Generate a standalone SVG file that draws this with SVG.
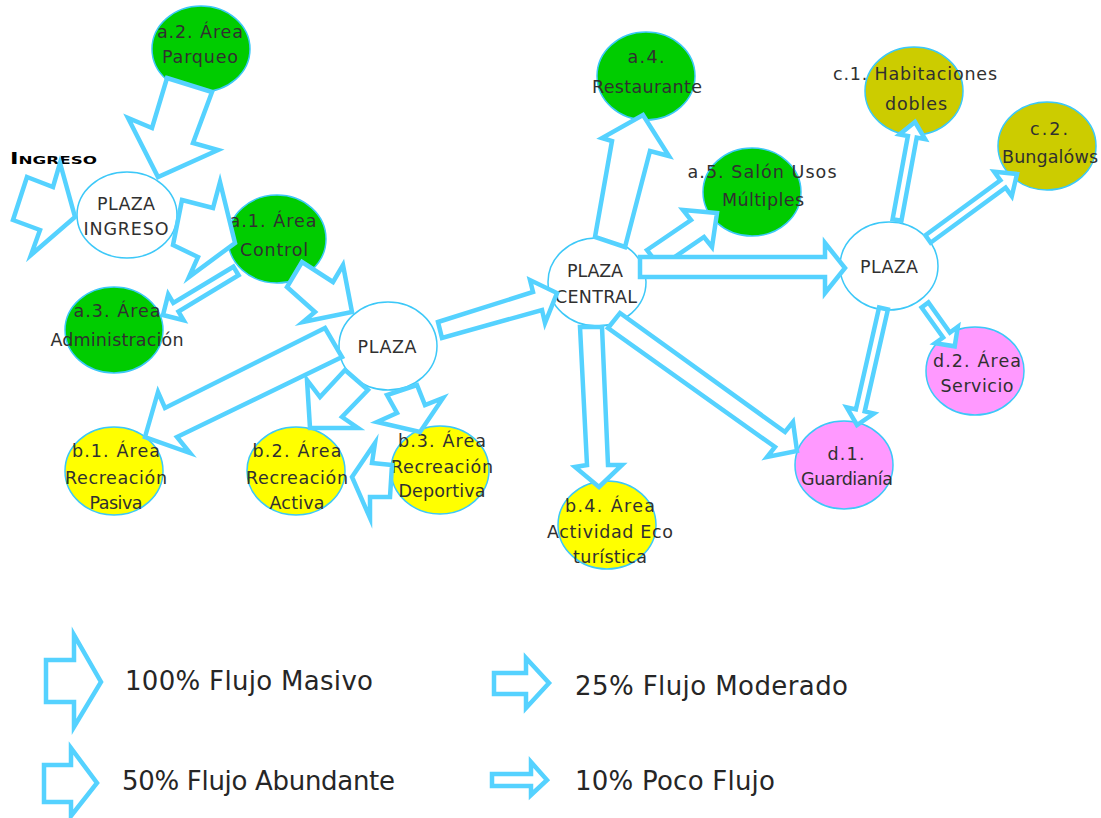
<svg xmlns="http://www.w3.org/2000/svg" width="1101" height="818" viewBox="0 0 1101 818">
<style>
.n{stroke:#3cc8f8;stroke-width:1.5}
.g{fill:#00cc00}.y{fill:#ffff00}.o{fill:#cccc00}.p{fill:#ff99ff}.w{fill:#ffffff}
.t{font-family:"DejaVu Sans","Liberation Sans",sans-serif;font-weight:normal;font-size:17.5px;fill:#303030;text-anchor:middle}
.a{fill:#ffffff;stroke:#55d2ff;stroke-width:4.5;stroke-linejoin:miter;stroke-miterlimit:10}
.lt{font-family:"DejaVu Sans","Liberation Sans",sans-serif;font-weight:normal;font-size:26px;fill:#262626}
.ing{font-family:"DejaVu Sans","Liberation Sans",sans-serif;font-weight:bold;font-size:15px;font-variant:small-caps;fill:#000}
</style>
<rect width="1101" height="818" fill="#ffffff"/>
<text class="ing" x="10" y="164" textLength="87" lengthAdjust="spacingAndGlyphs">Ingreso</text>
<g id="n-a2"><ellipse class="n g" cx="201" cy="49" rx="49" ry="43"/><text class="t" x="200" y="38" textLength="86">a.2. Área</text><text class="t" x="200" y="63" textLength="76">Parqueo</text></g>
<g id="n-plaza-ingreso"><ellipse class="n w" cx="127" cy="215" rx="50" ry="43"/><text class="t" x="126" y="210" textLength="58">PLAZA</text><text class="t" x="126" y="235" textLength="85">INGRESO</text></g>
<g id="n-a1"><ellipse class="n g" cx="277" cy="239" rx="49" ry="44"/><text class="t" x="273" y="227" textLength="87">a.1. Área</text><text class="t" x="274" y="256" textLength="68">Control</text></g>
<g id="n-a3"><ellipse class="n g" cx="114" cy="330" rx="49" ry="43"/><text class="t" x="117" y="317" textLength="87">a.3. Área</text><text class="t" x="117" y="346" textLength="133">Administración</text></g>
<g id="n-plaza1"><ellipse class="n w" cx="388" cy="346" rx="49" ry="44"/><text class="t" x="387" y="353" textLength="59">PLAZA</text></g>
<g id="n-b1"><ellipse class="n y" cx="114" cy="471" rx="49" ry="44"/><text class="t" x="116" y="457" textLength="88">b.1. Área</text><text class="t" x="116" y="484" textLength="102">Recreación</text><text class="t" x="116" y="509" textLength="53">Pasiva</text></g>
<g id="n-b2"><ellipse class="n y" cx="296" cy="471" rx="49" ry="44"/><text class="t" x="297" y="457" textLength="89">b.2. Área</text><text class="t" x="297" y="484" textLength="102">Recreación</text><text class="t" x="297" y="509" textLength="55">Activa</text></g>
<g id="n-b3"><ellipse class="n y" cx="440" cy="470" rx="49" ry="44"/><text class="t" x="442" y="447" textLength="88">b.3. Área</text><text class="t" x="442" y="473" textLength="102">Recreación</text><text class="t" x="442" y="497" textLength="87">Deportiva</text></g>
<g id="n-a4"><ellipse class="n g" cx="646" cy="76" rx="49" ry="44"/><text class="t" x="646" y="63" textLength="37">a.4.</text><text class="t" x="647" y="93" textLength="110">Restaurante</text></g>
<g id="n-a5"><ellipse class="n g" cx="752" cy="192" rx="49" ry="44"/><text class="t" x="762" y="178" textLength="149">a.5. Salón Usos</text><text class="t" x="763" y="206" textLength="82">Múltiples</text></g>
<g id="n-plaza-central"><ellipse class="n w" cx="597" cy="282" rx="49" ry="44"/><text class="t" x="595" y="277" textLength="56">PLAZA</text><text class="t" x="596" y="303" textLength="82">CENTRAL</text></g>
<g id="n-c1"><ellipse class="n o" cx="914" cy="91" rx="49" ry="44"/><text class="t" x="915" y="80" textLength="164">c.1. Habitaciones</text><text class="t" x="916" y="110" textLength="62">dobles</text></g>
<g id="n-c2"><ellipse class="n o" cx="1047" cy="146" rx="49" ry="44"/><text class="t" x="1049" y="135" textLength="38">c.2.</text><text class="t" x="1050" y="163" textLength="96">Bungalóws</text></g>
<g id="n-plaza2"><ellipse class="n w" cx="889" cy="266" rx="49" ry="44"/><text class="t" x="889" y="273" textLength="58">PLAZA</text></g>
<g id="n-d2"><ellipse class="n p" cx="975" cy="371" rx="49" ry="44"/><text class="t" x="977" y="367" textLength="88">d.2. Área</text><text class="t" x="977" y="392" textLength="73">Servicio</text></g>
<g id="n-d1"><ellipse class="n p" cx="844" cy="465" rx="49" ry="44"/><text class="t" x="846" y="460" textLength="37">d.1.</text><text class="t" x="847" y="485" textLength="92">Guardianía</text></g>
<g id="n-b4"><ellipse class="n y" cx="607" cy="525" rx="49" ry="44"/><text class="t" x="610" y="512" textLength="90">b.4. Área</text><text class="t" x="610" y="538" textLength="126">Actividad Eco</text><text class="t" x="610" y="563" textLength="74">turística</text></g>
<g id="connectors">
<polygon class="a" points="27,177 53,187 60,163 75,217 31,255 40,230 13,220"/>
<polygon class="a" points="167,78 212,92 193,143 218,150 158,177 128,118 152,128"/>
<polygon class="a" points="182,200 213,208 220,182 235,243 189,277 198,257 173,245"/>
<polygon class="a" points="233.4,266.7 173.3,303 168.2,294.4 163,315 183.6,320.2 178.5,311.6 238.6,275.3"/>
<polygon class="a" points="302,262 333,282 343,265 352,312 303,322 315,312 287,287"/>
<polygon class="a" points="325,328 165,408 158,392 145,437 190,453 177,437 342,357"/>
<polygon class="a" points="345,370 320,397 307,380 310,428 358,428 342,417 368,390"/>
<polygon class="a" points="387,395 397,413 377,422 420,432 443,398 425,405 417,385"/>
<polygon class="a" points="392,465 372,463 375,443 352,477 370,518 370,497 390,497"/>
<polygon class="a" points="438,322 533,292 530,280 557,293 545,323 542,310 442,338"/>
<polygon class="a" points="595,237 612,141 602,138 643,115 669,156 650,151 625,247"/>
<polygon class="a" points="647,250 691,220 683,210 717,213 712,247 704,237 660,267"/>
<polygon class="a" points="640,257 825,257 825,243 845,268 825,293 825,277 640,277"/>
<polygon class="a" points="580,327 587,465 575,467 599,487 622,465 608,465 602,327"/>
<polygon class="a" points="620,313 785,432 793,422 797,451 767,457 775,447 608,328"/>
<polygon class="a" points="892.6,219.2 907.9,136 899.5,134.4 915,122 925.1,139.2 916.7,137.6 901.4,220.8"/>
<polygon class="a" points="925.4,235.3 1000.4,180.3 994.2,171.8 1017,174 1011.8,196.2 1005.6,187.7 930.6,242.7"/>
<polygon class="a" points="921.6,307.5 943.1,337.5 935.2,343.2 954.7,346.3 957.8,326.8 949.9,332.5 928.4,302.5"/>
<polygon class="a" points="879.1,307.5 855.9,409.4 846.7,407.3 857,425 873.9,413.5 864.7,411.4 887.9,309.5"/>
</g>
<g id="legend">
<polygon class="a" points="46,660 74,660 74,635 101,682 74,727 74,702 46,702"/>
<text class="lt" x="125" y="690" textLength="248">100% Flujo Masivo</text>
<polygon class="a" points="494,673 526,673 526,658 549,683 526,708 526,694 494,694"/>
<text class="lt" x="575" y="695" textLength="273">25% Flujo Moderado</text>
<polygon class="a" points="44,765 71,765 71,748 97,783 71,816 71,802 44,802"/>
<text class="lt" x="122" y="790" textLength="273">50% Flujo Abundante</text>
<polygon class="a" points="492,774 531,774 531,762 547,780 531,795 531,786 492,786"/>
<text class="lt" x="575" y="790" textLength="200">10% Poco Flujo</text>
</g>
</svg>
